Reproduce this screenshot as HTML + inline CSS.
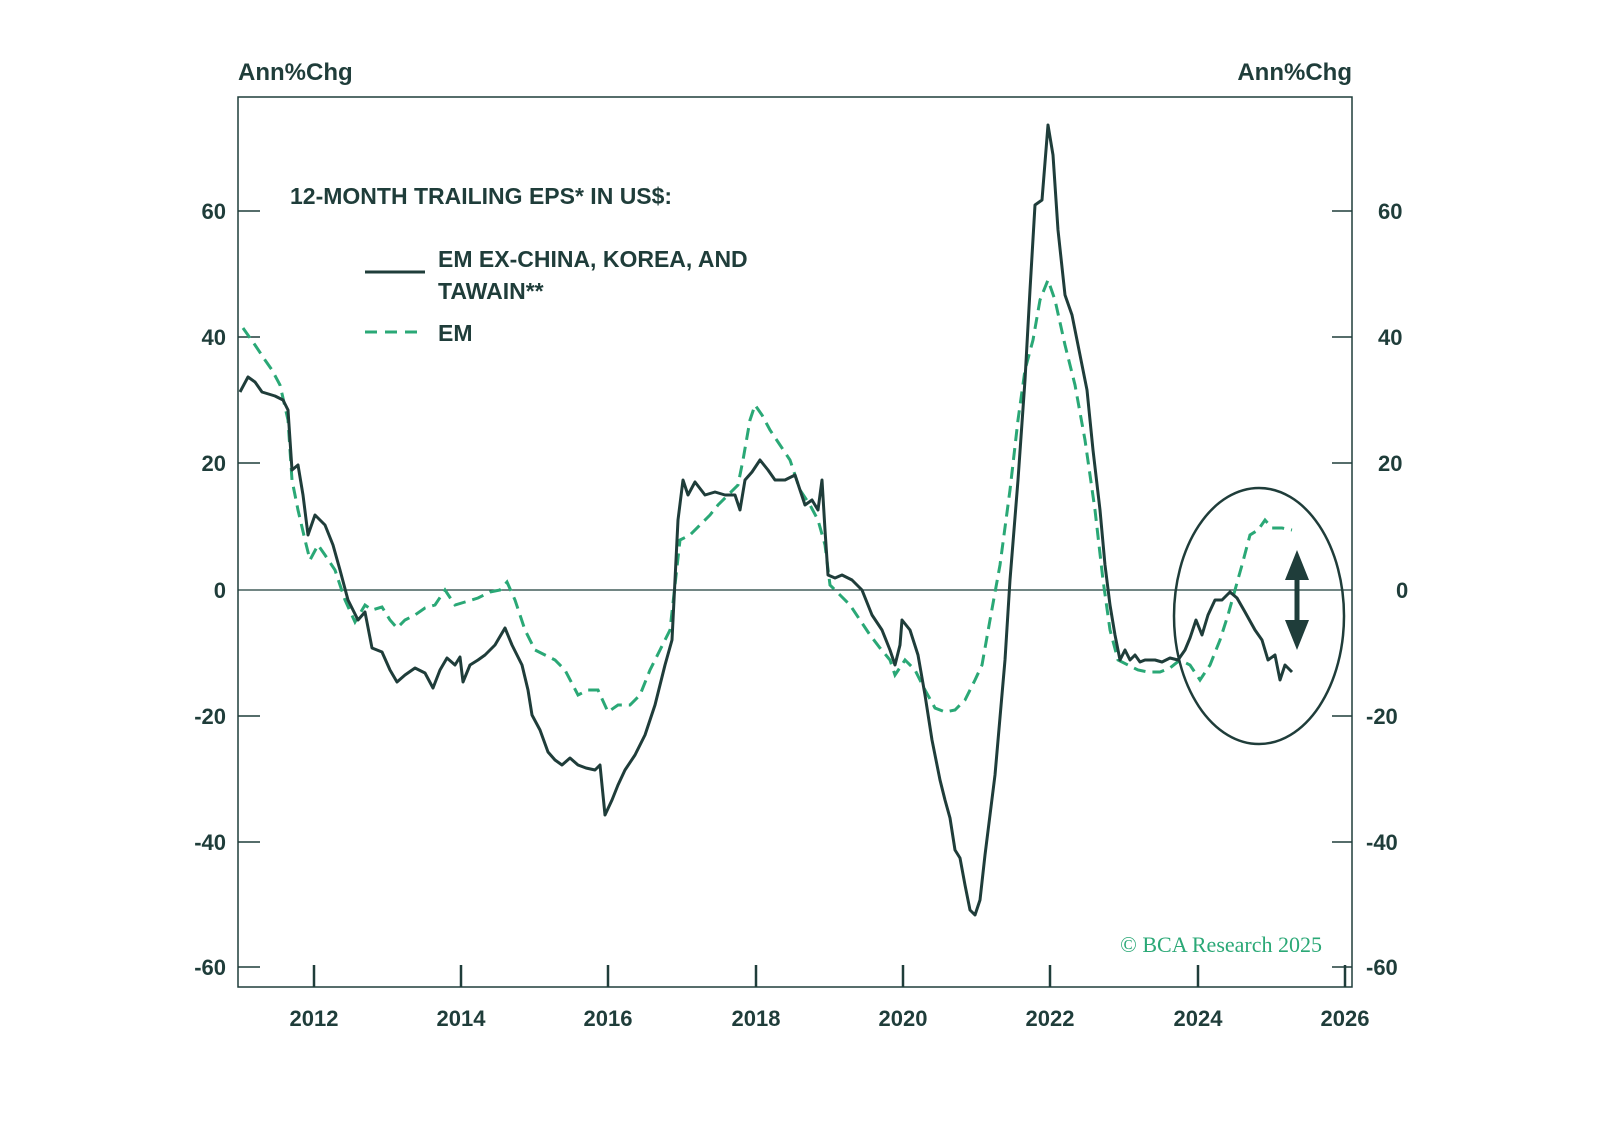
<!DOCTYPE html>
<html><head><meta charset="utf-8"><style>
html,body{margin:0;padding:0;background:#fff;}
svg{display:block;}
text{font-family:"Liberation Sans",sans-serif;fill:#1f3d3a;font-weight:bold;}
</style></head><body>
<svg width="1598" height="1144" viewBox="0 0 1598 1144" xmlns="http://www.w3.org/2000/svg">
<rect x="238" y="97" width="1114" height="890" fill="none" stroke="#1f3d3a" stroke-width="1.5"/>
<line x1="238" y1="590" x2="1352" y2="590" stroke="#1f3d3a" stroke-width="1.3"/>
<g stroke="#1f3d3a" stroke-width="1.5">
<line x1="238" y1="211" x2="260" y2="211"/><line x1="238" y1="337" x2="260" y2="337"/><line x1="238" y1="463" x2="260" y2="463"/><line x1="238" y1="716" x2="260" y2="716"/><line x1="238" y1="842" x2="260" y2="842"/><line x1="238" y1="967" x2="260" y2="967"/>
<line x1="1332" y1="211" x2="1352" y2="211"/><line x1="1332" y1="337" x2="1352" y2="337"/><line x1="1332" y1="463" x2="1352" y2="463"/><line x1="1332" y1="716" x2="1352" y2="716"/><line x1="1332" y1="842" x2="1352" y2="842"/><line x1="1332" y1="967" x2="1352" y2="967"/>
</g>
<g stroke="#1f3d3a" stroke-width="2.5">
<line x1="314" y1="987" x2="314" y2="965"/><line x1="461" y1="987" x2="461" y2="965"/><line x1="608" y1="987" x2="608" y2="965"/><line x1="756" y1="987" x2="756" y2="965"/><line x1="903" y1="987" x2="903" y2="965"/><line x1="1050" y1="987" x2="1050" y2="965"/><line x1="1198" y1="987" x2="1198" y2="965"/><line x1="1345" y1="987" x2="1345" y2="965"/>
</g>
<g font-size="22" text-anchor="end">
<text x="226" y="219">60</text><text x="226" y="345">40</text><text x="226" y="471">20</text><text x="226" y="598">0</text><text x="226" y="724">-20</text><text x="226" y="850">-40</text><text x="226" y="975">-60</text>
</g>
<g font-size="22" text-anchor="start">
<text x="1378" y="219">60</text><text x="1378" y="345">40</text><text x="1378" y="471">20</text><text x="1396" y="598">0</text><text x="1366" y="724">-20</text><text x="1366" y="850">-40</text><text x="1366" y="975">-60</text>
</g>
<g font-size="22" text-anchor="middle">
<text x="314" y="1026">2012</text><text x="461" y="1026">2014</text><text x="608" y="1026">2016</text><text x="756" y="1026">2018</text><text x="903" y="1026">2020</text><text x="1050" y="1026">2022</text><text x="1198" y="1026">2024</text><text x="1345" y="1026">2026</text>
</g>
<text x="238" y="80" font-size="24">Ann%Chg</text>
<text x="1352" y="80" font-size="24" text-anchor="end">Ann%Chg</text>
<text x="290" y="204" font-size="23">12-MONTH TRAILING EPS* IN US$:</text>
<line x1="365" y1="272" x2="425" y2="272" stroke="#1f3d3a" stroke-width="3"/>
<text x="438" y="267" font-size="23">EM EX-CHINA, KOREA, AND</text>
<text x="438" y="299" font-size="23">TAWAIN**</text>
<line x1="365" y1="332" x2="425" y2="332" stroke="#2aa876" stroke-width="3" stroke-dasharray="12,8"/>
<text x="438" y="341" font-size="23">EM</text>
<text x="1322" y="952" font-size="22" text-anchor="end" style="fill:#2aa876;font-family:'Liberation Serif',serif;font-weight:normal">© BCA Research 2025</text>
<polyline fill="none" stroke="#2aa876" stroke-width="3" stroke-dasharray="12,7" points="243,328 255,345 265,360 272,370 280,385 288,420 292,480 298,510 305,540 310,560 318,545 325,555 335,570 345,600 355,622 365,605 372,610 382,607 390,620 397,628 405,620 415,615 425,608 435,605 445,590 455,605 465,602 478,598 490,592 500,590 507,582 515,600 525,630 535,650 545,655 555,660 565,670 578,695 588,690 598,690 608,712 618,705 630,705 640,695 650,670 660,650 670,630 680,540 690,535 700,525 710,515 718,505 728,495 738,485 743,460 750,420 755,405 762,415 770,430 780,445 790,460 800,490 810,505 818,520 825,545 830,585 840,595 850,605 860,620 870,635 880,648 890,660 895,675 905,660 915,670 925,690 935,708 945,712 955,710 965,700 975,680 982,665 990,620 1000,565 1010,490 1018,420 1025,370 1033,340 1040,300 1048,280 1055,300 1065,345 1075,385 1085,440 1095,510 1103,580 1110,630 1118,660 1128,665 1138,670 1148,672 1160,672 1170,668 1180,660 1190,665 1200,680 1210,665 1220,640 1228,615 1235,590 1242,565 1250,535 1258,530 1265,520 1272,528 1282,528 1292,530"/>
<polyline fill="none" stroke="#1f3d3a" stroke-width="3" stroke-linejoin="round" points="240,392 248,377 255,382 262,392 275,396 283,400 288,410 292,470 298,465 303,495 308,535 315,515 325,525 333,545 340,570 348,600 358,620 365,612 372,648 382,652 390,670 397,682 405,675 415,668 425,673 433,688 440,670 447,658 455,665 460,657 463,682 470,665 478,660 485,655 495,645 505,628 512,645 522,665 528,690 532,715 540,730 548,752 555,760 562,765 570,758 578,765 586,768 595,770 600,765 605,815 612,800 618,785 625,770 635,755 645,735 655,705 665,665 672,640 678,520 683,480 688,495 695,482 705,495 715,492 725,495 735,495 740,510 745,480 752,472 760,460 768,470 775,480 785,480 795,475 800,490 805,505 812,500 818,510 822,480 825,530 828,575 835,578 842,575 852,580 862,590 872,615 882,630 890,650 895,665 900,645 902,620 910,630 918,655 925,695 932,740 940,780 945,800 950,818 955,850 960,858 965,885 970,910 975,915 980,900 985,855 995,775 1005,660 1010,580 1018,480 1025,380 1030,290 1035,205 1042,200 1048,125 1053,155 1058,230 1065,295 1072,315 1080,355 1087,390 1093,450 1100,510 1105,565 1110,605 1115,635 1120,660 1125,650 1130,660 1135,655 1140,662 1145,660 1155,660 1162,662 1170,658 1178,660 1185,650 1190,638 1196,620 1202,635 1208,615 1215,600 1222,600 1230,592 1237,598 1245,612 1255,630 1262,640 1268,660 1275,655 1280,680 1285,665 1292,672"/>
<ellipse cx="1259" cy="616" rx="85" ry="128" fill="none" stroke="#1f3d3a" stroke-width="2.5"/>
<line x1="1297" y1="570" x2="1297" y2="630" stroke="#1f3d3a" stroke-width="5"/>
<polygon points="1297,550 1285,580 1309,580" fill="#1f3d3a"/>
<polygon points="1297,650 1285,620 1309,620" fill="#1f3d3a"/>
</svg>
</body></html>
